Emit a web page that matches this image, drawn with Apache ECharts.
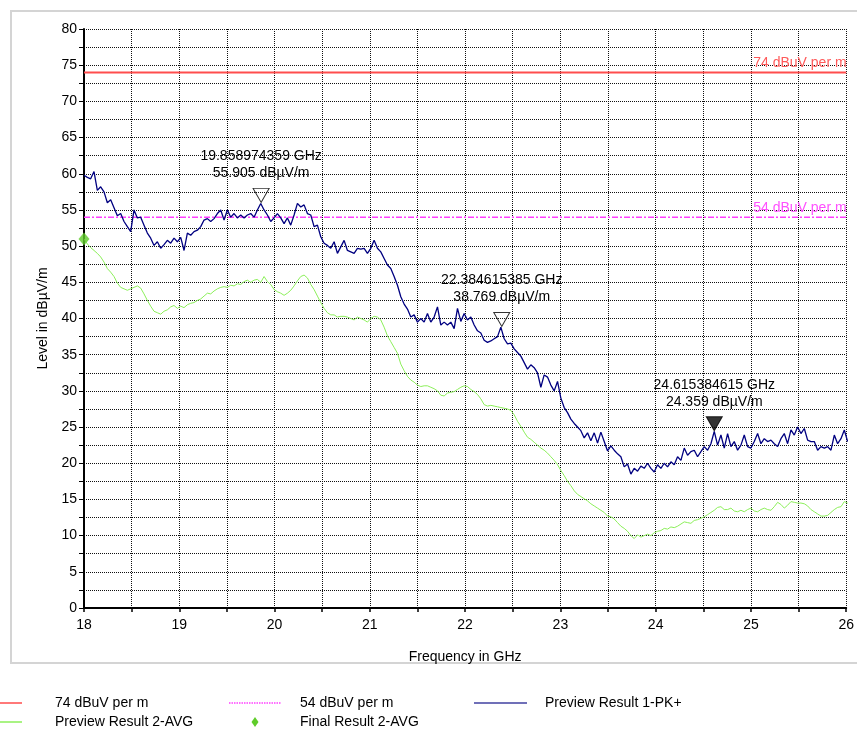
<!DOCTYPE html>
<html>
<head>
<meta charset="utf-8">
<script src="https://cdn.jsdelivr.net/npm/echarts@6/dist/echarts.min.js"></script>
<style>
html,body{margin:0;padding:0;background:#fff;}
#chart{width:857px;height:730px;}
</style>
</head>
<body>
<div id="chart"></div>
<script>
// ---- data ----
var sweepStartGHz = 18;
var sweepStepGHz = 0.035;

// Preview Result 1-PK+ (dBµV/m)
var pkLevel = [
59.8,59.5,59.3,60.3,57.7,58.2,57.5,56.0,56.4,55.3,
54.2,54.5,53.4,52.7,52.0,55.0,53.9,54.0,52.9,51.8,
51.1,50.1,50.6,49.7,50.2,50.8,50.4,51.1,50.6,51.2,
49.4,51.8,51.5,52.0,52.2,52.7,53.6,53.8,53.4,53.8,
54.5,55.0,53.6,55.0,54.0,54.5,53.9,54.3,53.9,54.3,
54.5,54.0,55.0,55.9,55.0,54.3,53.4,53.9,54.5,53.9,
53.1,53.9,52.9,54.3,55.9,55.4,55.7,54.5,54.3,52.7,
52.9,51.3,50.4,50.1,49.7,50.6,49.0,49.9,50.8,49.4,
49.2,49.0,49.7,49.6,49.7,49.0,49.7,50.8,49.7,49.2,
48.3,47.4,46.9,45.8,44.6,43.0,42.0,41.3,40.2,40.5,
39.5,40.0,39.5,40.7,39.5,40.2,41.6,39.1,39.5,39.1,
39.5,38.6,41.4,39.6,40.7,39.8,40.2,39.1,38.3,38.0,
37.0,36.7,36.9,37.2,37.5,38.8,37.2,36.5,36.6,35.8,
35.3,34.8,33.9,33.0,33.6,33.2,32.5,30.5,32.2,31.9,
30.8,30.0,31.3,29.0,27.7,27.0,26.1,25.5,25.0,24.5,
23.5,24.2,23.1,24.2,22.8,24.3,23.0,21.7,22.4,21.8,
21.3,20.9,19.5,19.9,18.5,19.3,18.9,19.6,19.3,20.0,
19.3,18.8,19.8,19.3,20.0,19.5,20.2,19.8,20.9,20.4,
22.1,21.1,21.6,21.8,20.9,21.6,22.3,21.8,22.7,24.4,
22.5,23.9,22.1,24.1,22.3,23.0,21.8,22.5,23.9,22.3,
22.1,23.0,24.1,22.7,23.4,23.0,23.2,22.7,22.3,23.4,
24.1,22.7,24.6,23.9,25.0,24.1,24.8,23.2,23.0,23.0,
21.8,22.3,22.1,22.3,21.8,23.9,22.7,23.4,24.6,23.0
];

// Preview Result 2-AVG (dBµV/m)
var avgLevel = [
51.0,50.3,49.8,49.4,49.0,48.5,47.8,46.9,46.4,45.8,
44.9,44.3,44.1,43.9,44.1,44.3,44.5,44.2,43.4,42.5,
41.7,41.0,40.8,40.6,41.0,41.2,41.6,41.8,41.4,41.7,
41.5,41.9,42.1,42.2,42.5,42.7,43.1,43.5,43.4,43.8,
44.1,44.3,44.4,44.3,44.6,44.5,44.8,44.7,45.1,45.3,
45.0,45.3,45.4,45.0,45.8,45.1,44.7,44.0,43.7,43.5,
43.2,43.5,43.9,44.5,45.2,45.8,46.0,45.6,44.7,44.0,
43.1,42.2,41.4,40.8,40.5,40.5,40.2,40.3,40.3,40.2,
40.0,39.8,40.2,40.0,39.8,39.5,40.0,40.3,40.2,39.8,
38.8,37.6,36.8,36.0,35.2,33.7,32.8,32.0,31.5,31.2,
30.8,30.6,30.7,30.7,30.5,30.3,30.0,29.4,29.3,29.7,
29.8,29.9,30.2,30.5,30.7,30.6,30.2,29.9,29.5,28.9,
28.1,27.9,28.0,27.9,27.8,27.7,27.6,27.5,27.3,26.7,
25.8,25.1,24.3,23.6,23.3,22.9,22.5,22.1,21.8,21.4,
20.9,20.4,19.8,19.0,18.3,17.5,16.9,16.2,15.7,15.4,
15.1,14.8,14.4,14.1,13.8,13.5,13.2,12.7,12.6,12.3,
11.8,11.3,11.0,10.6,10.0,9.6,10.1,9.8,10.0,10.2,
10.0,10.4,10.6,10.7,11.0,10.9,11.2,11.1,11.3,11.6,
11.9,11.8,11.7,12.1,12.2,12.4,12.6,12.9,13.2,13.5,
13.9,14.0,13.6,13.6,13.8,13.4,13.3,13.5,13.3,13.6,
13.8,13.4,13.3,13.6,13.8,13.6,13.5,14.0,14.6,14.3,
13.8,14.2,14.7,14.6,14.5,14.5,14.4,14.1,13.6,13.3,
13.0,12.7,12.7,12.8,13.2,13.6,13.9,14.0,14.7,14.5
];

var limitFreq = [18, 26];
var limit74 = [74, 74];
var limit54 = [54, 54];

var finalFreq = [18.0];
var finalLevel = [51.0];

var markerFreq = ['19.858974359', '22.384615385', '24.615384615'];
var markerLevel = ['55.905', '38.769', '24.359'];
var markerFilled = [false, false, true];

var xTickLabels = ['18','19','20','21','22','23','24','25','26'];
var yTickLabels = ['0','5','10','15','20','25','30','35','40','45','50','55','60','65','70','75','80'];

var seriesNames = ['74 dBuV per m', '54 dBuV per m', 'Preview Result 1-PK+', 'Preview Result 2-AVG', 'Final Result 2-AVG'];

// ---- build ----
function sweep(vals) {
  return vals.map(function (v, i) { return [+(sweepStartGHz + i * sweepStepGHz).toFixed(4), v]; });
}
function pairs(xs, ys) { return xs.map(function (x, i) { return [x, ys[i]]; }); }

var RED = '#ff4d4d', MAG = '#ff40ff', NAVY = '#000080', GREEN = '#8cef5a', DIAM = '#5fcc2a';
var FONT = 'Liberation Sans, Arial, sans-serif';

var markerData = markerFreq.map(function (f, i) {
  return {
    value: [parseFloat(f), parseFloat(markerLevel[i])],
    fText: f, lText: markerLevel[i],
    itemStyle: markerFilled[i]
      ? { color: '#000', borderColor: '#000', borderWidth: 1 }
      : { color: 'rgba(255,255,255,0)', borderColor: '#000', borderWidth: 1 }
  };
});

var chart = echarts.init(document.getElementById('chart'), null, { renderer: 'canvas' });

var legendY1 = 703, legendY2 = 722;
var legendGraphics = [
  { type: 'line', shape: { x1: 0, y1: legendY1, x2: 22, y2: legendY1 }, style: { stroke: RED, lineWidth: 1.5 } },
  { type: 'text', left: 55, top: legendY1 - 7, style: { text: seriesNames[0], font: '14px ' + FONT, fill: '#000' } },
  { type: 'line', shape: { x1: 229, y1: legendY1, x2: 281, y2: legendY1 }, style: { stroke: MAG, lineWidth: 1.5, lineDash: [1.5, 1] } },
  { type: 'text', left: 300, top: legendY1 - 7, style: { text: seriesNames[1], font: '14px ' + FONT, fill: '#000' } },
  { type: 'line', shape: { x1: 474, y1: legendY1, x2: 527, y2: legendY1 }, style: { stroke: '#4040a0', lineWidth: 1.5 } },
  { type: 'text', left: 545, top: legendY1 - 7, style: { text: seriesNames[2], font: '14px ' + FONT, fill: '#000' } },
  { type: 'line', shape: { x1: 0, y1: legendY2, x2: 22, y2: legendY2 }, style: { stroke: GREEN, lineWidth: 1.5 } },
  { type: 'text', left: 55, top: legendY2 - 7, style: { text: seriesNames[3], font: '14px ' + FONT, fill: '#000' } },
  { type: 'polygon', shape: { points: [[255, legendY2 - 5], [258.5, legendY2], [255, legendY2 + 5], [251.5, legendY2]] }, style: { fill: DIAM } },
  { type: 'text', left: 300, top: legendY2 - 7, style: { text: seriesNames[4], font: '14px ' + FONT, fill: '#000' } }
];

var option = {
  animation: false,
  backgroundColor: '#fff',
  textStyle: { fontFamily: FONT },
  graphic: [
    { type: 'rect', id: 'frame', z: -10, shape: { x: 11, y: 11, width: 870, height: 652 }, style: { fill: '#fff', stroke: '#d4d4d4', lineWidth: 2 } }
  ].concat(legendGraphics),
  grid: { left: 84, right: 9, top: 29, bottom: 122, containLabel: false },
  xAxis: {
    type: 'value', min: 18, max: 26, interval: 0.5,
    name: 'Frequency in GHz', nameLocation: 'middle', nameGap: 42,
    nameTextStyle: { fontSize: 14, color: '#000', fontFamily: FONT },
    axisLine: { show: true, onZero: false, lineStyle: { color: '#000', width: 2 } },
    axisTick: { show: true, length: 4, lineStyle: { color: '#000', width: 1.5 } },
    axisLabel: {
      fontSize: 14, color: '#000', margin: 10, fontFamily: FONT,
      formatter: function (v) { var i = xTickLabels.indexOf(String(v)); return i >= 0 ? xTickLabels[i] : ''; }
    },
    splitLine: { show: true, lineStyle: { color: '#111', width: 1, type: [1, 1] } }
  },
  yAxis: {
    type: 'value', min: 0, max: 80, interval: 2.5,
    name: 'Level in dBµV/m', nameLocation: 'middle', nameGap: 34, nameRotate: 90,
    nameTextStyle: { fontSize: 14, color: '#000', fontFamily: FONT },
    axisLine: { show: true, onZero: false, lineStyle: { color: '#000', width: 2 } },
    axisTick: { show: true, length: 5, lineStyle: { color: '#000', width: 1 } },
    axisLabel: {
      fontSize: 14, color: '#000', margin: 7, fontFamily: FONT,
      formatter: function (v) { var i = yTickLabels.indexOf(String(v)); return i >= 0 ? yTickLabels[i] : ''; }
    },
    splitLine: { show: true, lineStyle: { color: '#111', width: 1, type: [1, 1] } }
  },
  series: [
    {
      name: seriesNames[0], type: 'line', data: pairs(limitFreq, limit74), symbol: 'none',
      lineStyle: { color: RED, width: 2 }, z: 3
    },
    {
      name: seriesNames[1], type: 'line', data: pairs(limitFreq, limit54), symbol: 'none',
      lineStyle: { color: MAG, width: 1.5, type: [6, 2, 2, 2] }, z: 3
    },
    {
      name: seriesNames[3], type: 'line', data: sweep(avgLevel), symbol: 'none',
      lineStyle: { color: GREEN, width: 1 }, z: 4
    },
    {
      name: seriesNames[2], type: 'line', data: sweep(pkLevel), symbol: 'none',
      lineStyle: { color: NAVY, width: 1.3 }, z: 5
    },
    {
      name: 'markers', type: 'scatter', data: markerData, z: 8,
      symbol: 'triangle', symbolRotate: 180, symbolSize: [16, 14], symbolOffset: [0, -8],
      label: {
        show: true, position: 'top', distance: 6, color: '#000', fontSize: 14, lineHeight: 17, fontFamily: FONT, align: 'center',
        textBorderWidth: 0, opacity: 1,
        formatter: function (p) { return p.data.fText + ' GHz\n' + p.data.lText + ' dBµV/m'; }
      }
    },
    {
      name: seriesNames[4], type: 'scatter', data: pairs(finalFreq, finalLevel), z: 9,
      symbol: 'diamond', symbolSize: [11, 13], itemStyle: { color: DIAM }
    }
  ]
};
chart.setOption(option);

// Limit-line captions placed at the line ends using the chart's own scales
var end74 = chart.convertToPixel({ gridIndex: 0 }, [limitFreq[1], limit74[1]]);
var end54 = chart.convertToPixel({ gridIndex: 0 }, [limitFreq[1], limit54[1]]);
chart.setOption({
  graphic: [
    { type: 'text', id: 'lab74', z: 20, x: end74[0] - 93, y: end74[1] - 16,
      style: { text: seriesNames[0], font: '14px ' + FONT, fill: '#ff5a5a' } },
    { type: 'text', id: 'lab54', z: 20, x: end54[0] - 93, y: end54[1] - 16,
      style: { text: seriesNames[1], font: '14px ' + FONT, fill: '#ff50ff' } }
  ]
});
</script>
</body>
</html>
